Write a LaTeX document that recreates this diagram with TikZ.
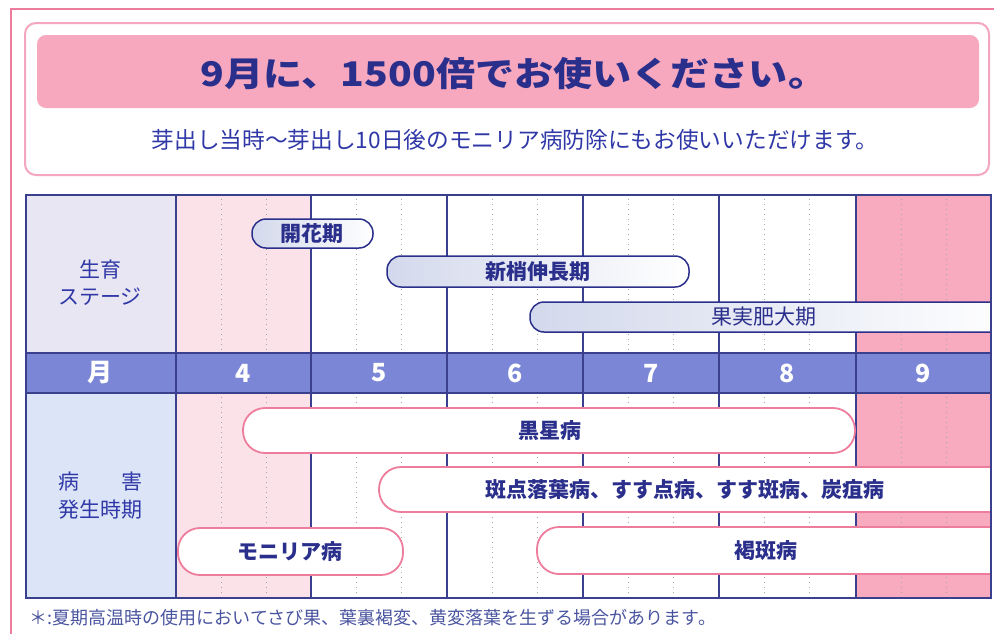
\documentclass[tikz,border=0pt]{standalone}
\usepackage{fontspec}
\setmainfont{Noto Sans CJK JP}
\usepackage{xcolor}
\usepackage{tikz}
\usetikzlibrary{calc}

\definecolor{navy}{HTML}{2B2F8C}
\definecolor{inkblue}{HTML}{3038A8}
\definecolor{gridline}{HTML}{3A3F8E}
\definecolor{rosaline}{HTML}{EE7C9C}
\definecolor{rosabox}{HTML}{F3A6BD}
\definecolor{rosafill}{HTML}{F8A8BE}
\definecolor{aprbg}{HTML}{FBE2E9}
\definecolor{sepbg}{HTML}{F8AABF}
\definecolor{stagebg}{HTML}{E7E6F2}
\definecolor{sickbg}{HTML}{DCE5F7}
\definecolor{bandbg}{HTML}{7B87D6}
\definecolor{pillfill}{HTML}{D3D9EC}
\definecolor{notegray}{HTML}{4A55A0}

\newcommand{\fs}[1]{\fontsize{#1}{#1}\selectfont}

\tikzset{
  grid/.style={draw=gridline, line width=1.1pt},
  dotline/.style={draw=gray!70, line width=0.9pt, dash pattern=on 1pt off 4pt},
  stagepill/.style={draw=navy, line width=1.5pt, rounded corners=14pt, left color=pillfill, right color=white},
  sickpill/.style={draw=rosaline, line width=1.8pt, rounded corners=22pt, fill=white},
  stagetxt/.style={text=navy, font=\bfseries\fs{21}},
  sicktxt/.style={text=navy, font=\bfseries\fs{21}},
  sidetxt/.style={text=inkblue, font=\fs{21}},
  monthtxt/.style={text=white, font=\bfseries\fs{25}}
}

\begin{document}
\begin{tikzpicture}[x=1pt,y=-1pt]
\useasboundingbox[fill=white] (0,0) rectangle (994,633);

% outer frame and heading box
\draw[rosaline, line width=1.2pt] (11,650) -- (11,9) -- (1010,9);
\draw[rosabox, line width=2pt, rounded corners=11pt] (25,23) rectangle (989,175);
\fill[rosafill, rounded corners=9pt] (37,35) rectangle (979,108);
\node (title) at (514,74) {\scalebox{1.15}[1]{\color{navy}\bfseries\fs{34}9月に、1500倍でお使いください。}};
\node (sub) at (515,140) {\color{inkblue}\fs{22.7}芽出し当時～芽出し10日後のモニリア病防除にもお使いいただけます。};

% table backgrounds
\fill[stagebg] (26,195) rectangle (176,353);
\fill[sickbg] (26,393) rectangle (176,598);
\fill[aprbg] (176,195) rectangle (311,353);
\fill[aprbg] (176,393) rectangle (311,598);
\fill[sepbg] (856,195) rectangle (991,353);
\fill[sepbg] (856,393) rectangle (991,598);
\fill[bandbg] (26,353) rectangle (991,393);

% dotted thirds of each month
\foreach \x in {176,311,447,583,719,856}{
  \draw[dotline] (\x+45,199) -- (\x+45,351);
  \draw[dotline] (\x+90,199) -- (\x+90,351);
  \draw[dotline] (\x+45,397) -- (\x+45,596);
  \draw[dotline] (\x+90,397) -- (\x+90,596);
}
\foreach \x in {176,311,447,583,719,856}
  \draw[grid] (\x,195) -- (\x,598);
\draw[grid] (26,353) -- (991,353);
\draw[grid] (26,393) -- (991,393);

% month row
\node[monthtxt] (m0) at (100,373) {月};
\node[monthtxt] (m4) at (243,373) {4};
\node[monthtxt] (m5) at (379,373) {5};
\node[monthtxt] (m6) at (515,373) {6};
\node[monthtxt] (m7) at (651,373) {7};
\node[monthtxt] (m8) at (787,373) {8};
\node[monthtxt] (m9) at (923,373) {9};

% side labels
\node[sidetxt] (stg1) at (100,270) {生育};
\node[sidetxt] (stg2) at (100,297) {ステージ};
\node[sidetxt] (dis1) at (100,482) {病　　害};
\node[sidetxt] (dis2) at (100,510) {発生時期};

% growth stages
\begin{scope}
\clip (26,195) rectangle (991,598);
\draw[stagepill] (252,219) rectangle (373,248);
\draw[stagepill] (387,256) rectangle (689,287);
\draw[stagepill] (530,302) rectangle (1020,332);
% disease periods
\draw[sickpill] (243,408) rectangle (855,453);
\draw[sickpill] (379,467) rectangle (1030,512);
\draw[sickpill] (178,528) rectangle (403,575);
\draw[sickpill] (537,527) rectangle (1030,574);
\end{scope}
\node[stagetxt] (kaika) at (312,234) {開花期};
\node[stagetxt] (shinsho) at (538,272) {新梢伸長期};
\node[stagetxt, font=\fs{21}] (kajitsu) at (764,317) {果実肥大期};
\node[sicktxt] (kokusei) at (550,431) {黒星病};
\node[sicktxt] (hanten) at (685,490) {斑点落葉病、すす点病、すす斑病、炭疽病};
\node[sicktxt] (monilia) at (290,552) {モニリア病};
\node[sicktxt] (kappan) at (766,551) {褐斑病};

\draw[gridline, line width=2pt] (26,195) rectangle (991,598);

% note
\node[anchor=west, text=notegray, font=\fs{18}] (note) at (26,618) {＊:夏期高温時の使用においてさび果、葉裏褐変、黄変落葉を生ずる場合があります。};
\end{tikzpicture}
\end{document}
